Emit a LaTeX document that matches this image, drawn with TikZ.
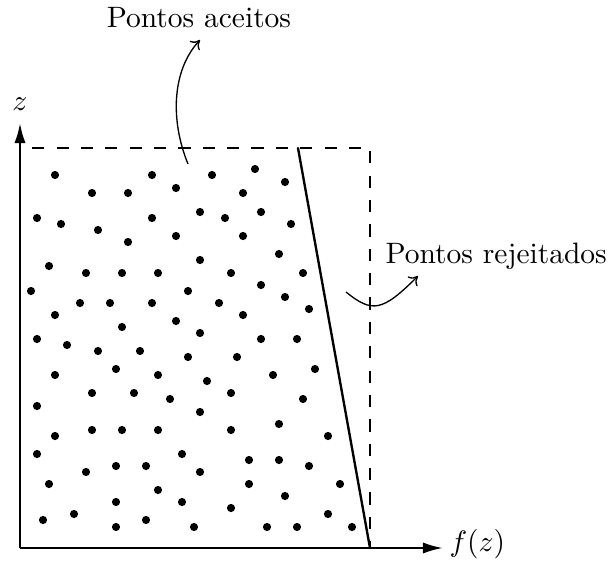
\documentclass[tikz,border=0pt]{standalone}
\usetikzlibrary{arrows.meta}
\begin{document}
\begin{tikzpicture}[x=0.339pt,y=-0.339pt,
  axis/.style={line width=0.8pt,-{Latex[length=6.8pt,width=3.8pt]}},
  bound/.style={line width=0.8pt,dash pattern=on 4.13pt off 4.13pt,dash phase=4.13pt},
  curve/.style={line width=0.8pt,line cap=round,line join=round},
  pointer/.style={line width=0.45pt,-{Computer Modern Rightarrow[length=2.8pt,width=4.6pt]}},
  dot/.style={fill=black},
  lbl/.style={inner sep=0pt,font=\normalsize}]
\useasboundingbox (0,0) rectangle (611,562);
% axes
\coordinate (O) at (20,548);
\coordinate (ztip) at (20,123);
\coordinate (ftip) at (443,548);
\draw[axis] (O) -- (ztip);
\draw[axis] (O) -- (ftip);
\node[lbl,anchor=south] (zl) at (20,111) {$z$};
\node[lbl,anchor=west] (fl) at (449,544) {$f(z)$};
% bounding rectangle (dashed)
\coordinate (TL) at (20,148);
\coordinate (TR) at (370,148);
\coordinate (BR) at (370,548);
\draw[bound] (TL) -- (TR) -- (BR);
% f(z) curve
\coordinate (ctop) at (298,148);
\draw[curve] (ctop) -- (BR);
% dots
\foreach \p in {
 (55,175),(152,175),(212,175),(255,169),(285,182),
 (92,193),(128,193),(176,188),(243,193),
 (37,218),(61,224),(98,230),(152,218),(200,212),(225,218),(261,212),(291,224),
 (128,242),(176,236),(243,236),(279,254),
 (49,266),(86,273),(122,273),(158,273),(200,260),(231,273),(303,273),
 (31,291),(188,291),(261,285),
 (80,303),(110,303),(152,303),(219,303),(285,297),
 (55,315),(176,321),(243,315),(309,309),
 (122,327),(200,333),
 (37,339),(67,345),(98,351),(140,351),(261,339),(297,339),
 (188,357),(237,357),
 (55,375),(116,369),(158,375),(207,381),(273,375),(315,369),
 (92,393),(134,393),(170,399),(231,393),(303,399),
 (37,406),(200,412),
 (279,424),
 (55,436),(92,430),(122,430),(158,430),(231,430),(328,436),
 (37,454),(182,454),(249,460),(279,460),
 (86,472),(116,466),(146,466),(200,472),(309,466),
 (49,484),(158,490),(249,484),(340,484),(285,496),
 (116,502),(182,502),(231,508),
 (43,520),(74,514),(116,527),(146,520),(194,527),(267,527),(297,527),(328,514),(352,527)}
 {\fill[dot] \p circle[radius=4.1];}
% labels with pointers
\node[lbl,anchor=base] (acc) at (199,27) {Pontos aceitos};
\node[lbl,anchor=base west] (rej) at (385,263) {Pontos rejeitados};
\coordinate (a0) at (188,164);
\coordinate (a1) at (200,40);
\draw[pointer] (a0) .. controls (170,120) and (172,70) .. (a1);
\coordinate (r0) at (346,292);
\coordinate (r1) at (418,276);
\draw[pointer] (r0) .. controls (372,313) and (382,312) .. (r1);
\end{tikzpicture}
\end{document}
